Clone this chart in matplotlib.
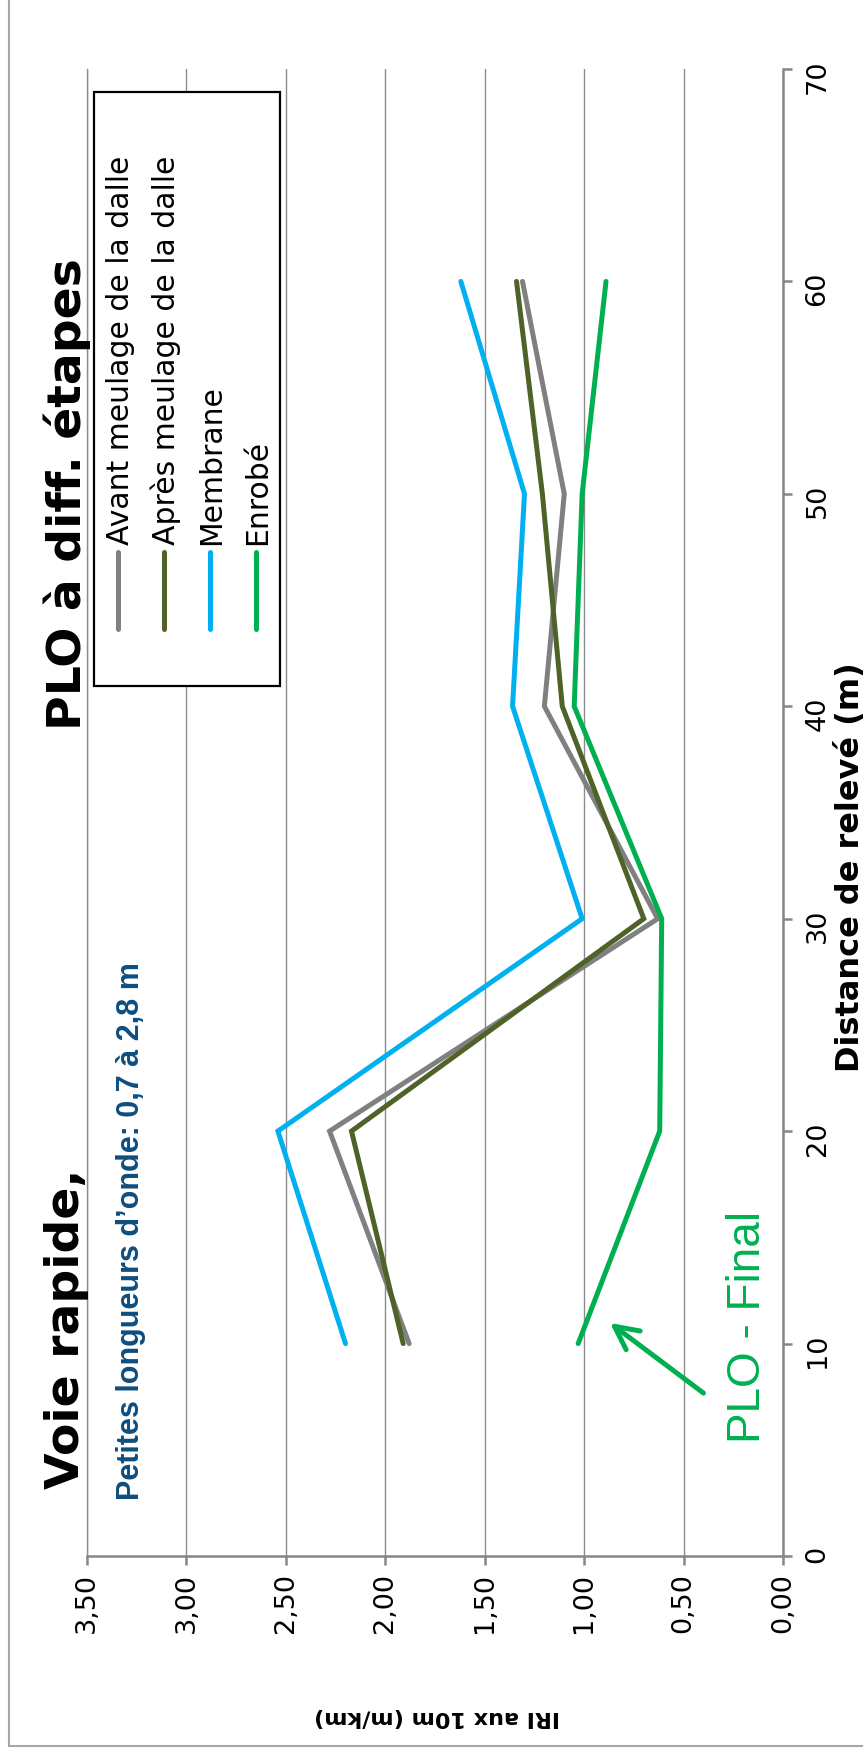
import matplotlib.pyplot as plt
from matplotlib.lines import Line2D
from matplotlib.patches import Rectangle

W, H = 863, 1754

# IRI (m/km) per 10 m section, read along the distance axis
distance = [10, 20, 30, 40, 50, 60]
avant = [1.88, 2.28, 0.63, 1.20, 1.10, 1.31]
apres = [1.91, 2.17, 0.70, 1.11, 1.21, 1.34]
membrane = [2.20, 2.54, 1.01, 1.36, 1.30, 1.62]
enrobe = [1.03, 0.62, 0.61, 1.05, 1.01, 0.89]

series = [avant, apres, membrane, enrobe]
names = ['Avant meulage de la dalle', 'Après meulage de la dalle', 'Membrane', 'Enrobé']
colors = ['#808080', '#4F6228', '#00B0F0', '#00B050']

iri_ticks = [0, 0.5, 1.0, 1.5, 2.0, 2.5, 3.0, 3.5]
iri_labels = ['0,00', '0,50', '1,00', '1,50', '2,00', '2,50', '3,00', '3,50']
dist_ticks = [0, 10, 20, 30, 40, 50, 60, 70]

sans = ['Liberation Sans', 'DejaVu Sans']
grid_col = '#8C8C8C'
axis_col = '#868686'


def fx(x):
    return x / W


def fy(y):
    return 1 - y / H


fig = plt.figure(figsize=(W / 100, H / 100), dpi=100)

# outer chart frame (only left and bottom edges fall inside the page)
fig.add_artist(Line2D([fx(9), fx(9)], [fy(0), fy(1746)], color='#A6A6A6', lw=1.5))
fig.add_artist(Line2D([fx(9), fx(W)], [fy(1746), fy(1746)], color='#A6A6A6', lw=1.5))

# the chart is turned a quarter: distance runs upward, IRI runs right to left
ax = fig.add_axes([fx(87), fy(1556), (783 - 87) / W, (1556 - 69) / H])
ax.set_xlim(3.5, 0)
ax.set_ylim(0, 70)

ax.grid(axis='x', color=grid_col, lw=1.0)
ax.set_axisbelow(True)
ax.spines['top'].set_visible(False)
ax.spines['left'].set_color(grid_col)
ax.spines['left'].set_linewidth(1.0)
for s in ['bottom', 'right']:
    ax.spines[s].set_color(axis_col)
    ax.spines[s].set_linewidth(1.8)

for vals, col in zip(series, colors):
    ax.plot(vals, distance, color=col, lw=3.6, solid_capstyle='round',
            solid_joinstyle='miter', zorder=3)

ax.set_xticks(iri_ticks, iri_labels)
ax.set_yticks(dist_ticks)
ax.yaxis.tick_right()
ax.tick_params(axis='both', direction='out', length=6.5, width=1.8,
               color=axis_col, labelsize=19.5, labelrotation=90)
ax.tick_params(axis='x', pad=6)
ax.tick_params(axis='y', pad=9)

# arrow pointing at the final layer curve
ax.annotate('', xy=(0.87, 10.97), xytext=(0.40, 7.67),
            arrowprops=dict(arrowstyle='->', color='#00B050', lw=3.6,
                            mutation_scale=42, shrinkA=0, shrinkB=0))

# axis titles
fig.text(fx(850), fy(867), 'Distance de relevé (m)', rotation=90, ha='center',
         va='center', fontsize=23, fontweight='bold')
fig.text(fx(437), fy(1717), 'IRI aux 10m (m/km)', rotation=180, ha='center',
         va='center', fontsize=16, fontweight='bold')

# titles, both in the left column
fig.text(fx(67), fy(1489), 'Voie rapide,', rotation=90, ha='center', va='bottom',
         fontsize=34, fontweight='bold', zorder=7)
fig.text(fx(67), fy(730), 'PLO à diff. étapes', rotation=90, ha='center',
         va='bottom', fontsize=34, fontweight='bold', zorder=7)
fig.text(fx(131), fy(1500), 'Petites longueurs d’onde: 0,7 à 2,8 m', rotation=90,
         ha='center', va='bottom', fontsize=22, fontweight='bold',
         color='#0E4E7F', family=sans)
fig.text(fx(748), fy(1443), 'PLO - Final', rotation=90, ha='center', va='bottom',
         fontsize=33, color='#00B050', family=sans)

# legend box, entries stacked left to right
fig.add_artist(Rectangle((fx(94), fy(686)), (280 - 94) / W, (686 - 92) / H,
                         facecolor='white', edgecolor='black', lw=1.6, zorder=5))
for i, (name, col) in enumerate(zip(names, colors)):
    lx = 118 + i * 46
    fig.add_artist(Line2D([fx(lx), fx(lx)], [fy(629), fy(552)], color=col, lw=3.6,
                          solid_capstyle='round', zorder=6))
    fig.text(fx(lx + 2), fy(545), name, rotation=90, ha='center', va='bottom',
             fontsize=21.5, zorder=6)

fig.savefig('out.png', dpi=100, facecolor='white')
